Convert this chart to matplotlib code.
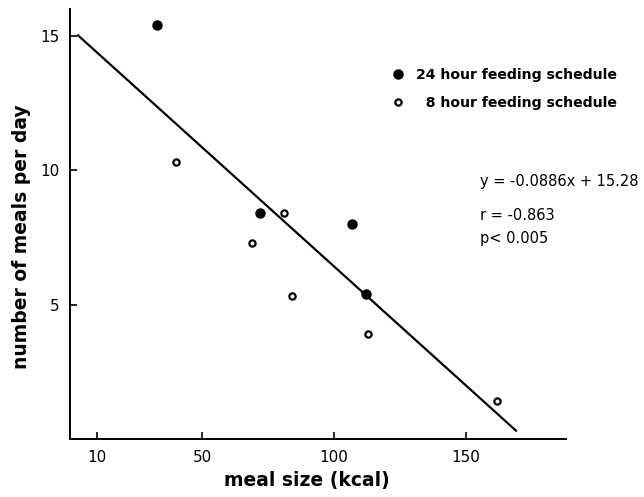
import matplotlib
matplotlib.use("Agg")
import matplotlib.pyplot as plt
from matplotlib.lines import Line2D

# meal size (kcal) vs number of meals per day
x24 = [33, 72, 107, 112]
y24 = [15.4, 8.4, 8.0, 5.4]
x8 = [40, 69, 81, 84, 113, 162]
y8 = [10.3, 7.3, 8.4, 5.3, 3.9, 1.4]

slope = -0.0886
intercept = 15.28
fit_x = [3, 169]

xticks = [10, 50, 100, 150]
yticks = [5, 10, 15]

plt.rcParams['font.family'] = ['DejaVu Sans']

fig = plt.figure(figsize=(6.44, 4.97), dpi=100)
ax = fig.add_axes([0.109, 0.117, 0.77, 0.865])

fit_y = [slope * v + intercept for v in fit_x]
ax.plot(fit_x, fit_y, color='black', lw=1.6)
ax.plot(x24, y24, 'o', color='black', ms=6.5)
ax.plot(x8, y8, 'o', mfc='white', mec='black', mew=1.6, ms=4.5)

ax.set_xlim(0, 188)
ax.set_ylim(0, 16)
ax.set_xticks(xticks)
ax.set_yticks(yticks)
ax.tick_params(direction='in', length=5, width=1.2, labelsize=11, pad=8)
for s in ['top', 'right']:
    ax.spines[s].set_visible(False)
for s in ['left', 'bottom']:
    ax.spines[s].set_linewidth(1.4)

ax.set_xlabel('meal size (kcal)', fontsize=13.5, fontweight='bold')
ax.xaxis.set_label_coords(0.478, -0.075)
ax.set_ylabel('number of meals per day', fontsize=13.5, fontweight='bold')
ax.yaxis.set_label_coords(-0.08, 0.47)

handles = [
    Line2D([], [], ls='none', marker='o', color='black', ms=6.5),
    Line2D([], [], ls='none', marker='o', mfc='white', mec='black', mew=1.6, ms=4.5),
]
ax.legend(handles, ['24 hour feeding schedule', '  8 hour feeding schedule'],
          loc='upper left', bbox_to_anchor=(0.587, 0.888), bbox_transform=fig.transFigure,
          frameon=False, handletextpad=0.8, handlelength=1.0,
          labelspacing=0.95, prop={'weight': 'bold', 'size': 10.1})

stats = ['y = -0.0886x + 15.28', 'r = -0.863', 'p< 0.005']
stat_y = [0.634, 0.567, 0.521]
for t, yy in zip(stats, stat_y):
    fig.text(0.745, yy, t, fontsize=10.5, va='center', ha='left')

fig.savefig('out.png', dpi=100)
